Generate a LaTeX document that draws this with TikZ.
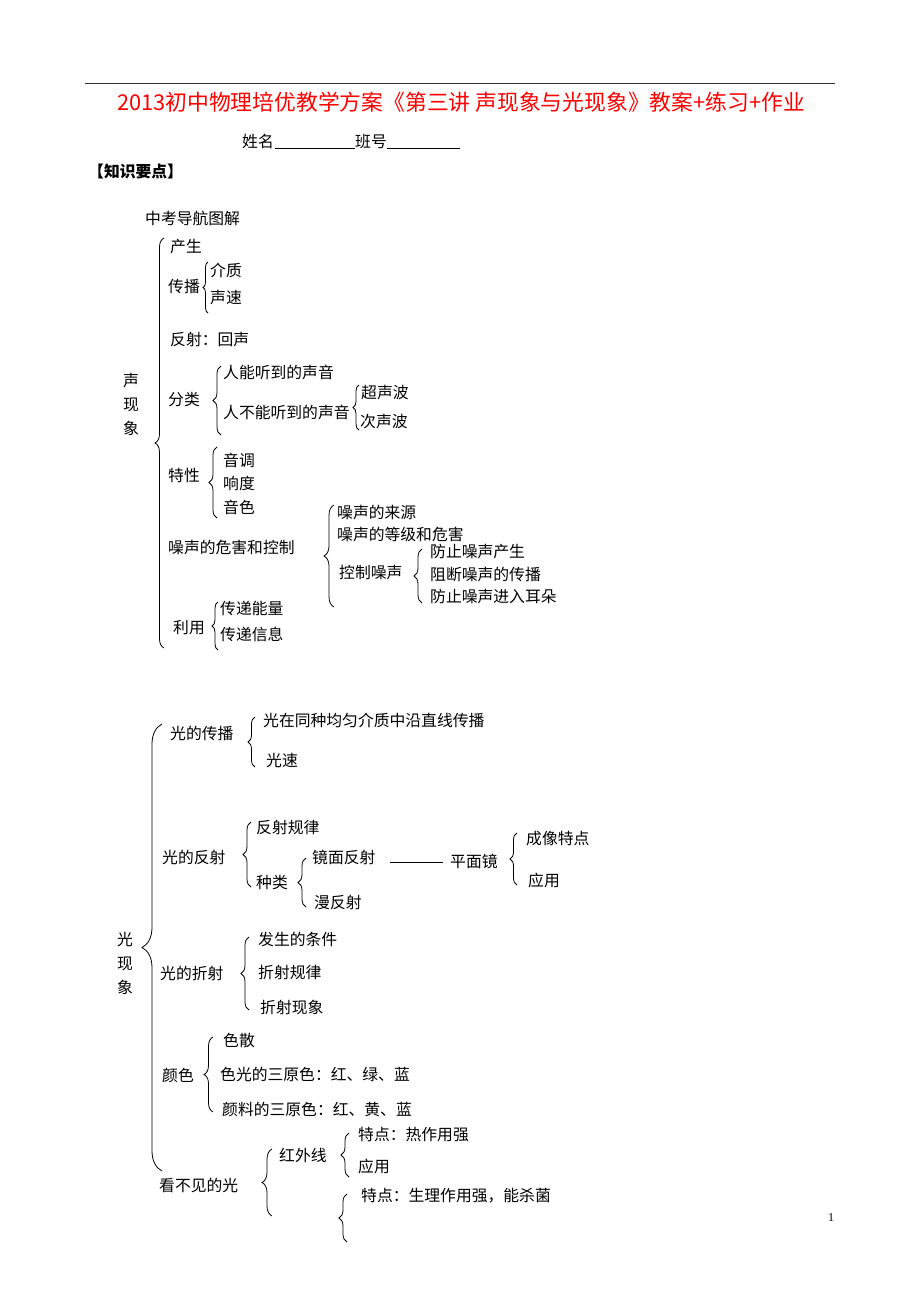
\documentclass[tikz,border=0pt]{standalone}
\usepackage{fontspec}
\usetikzlibrary{decorations.pathreplacing}
\newfontfamily\cjk{Noto Sans CJK SC}
\newfontfamily\serifen{Liberation Serif}
\definecolor{titlered}{RGB}{255,0,0}
\begin{document}
\begin{tikzpicture}[x=1pt,y=-1pt,
  t/.style={anchor=west,inner sep=0pt,font=\cjk\fontsize{15.8}{18}\selectfont},
  vt/.style={anchor=north west,inner sep=0pt,align=center,font=\cjk\fontsize{15.8}{24}\selectfont},
  br/.style={decorate,decoration={brace,amplitude=#1},line width=0.8pt},
  br/.default=7pt]
\useasboundingbox[fill=white] (0,0) rectangle (920,1302);

% header
\draw[line width=1pt,black!80] (85,83) -- (835,83);
\node[anchor=center,inner sep=0pt,text=titlered,font=\cjk\fontsize{21.8}{24}\selectfont] (title) at (461,102)
  {2013初中物理培优教学方案《第三讲\ 声现象与光现象》教案+练习+作业};
\node[t] (xm) at (242,141) {姓名};
\coordinate (u1a) at (275,148); \coordinate (u1b) at (355,148);
\draw[line width=0.8pt] (u1a) -- (u1b);
\node[t] (bh) at (355,141) {班号};
\coordinate (u2a) at (387,148); \coordinate (u2b) at (460,148);
\draw[line width=0.8pt] (u2a) -- (u2b);
\node[t,font=\cjk\fontsize{15.8}{18}\selectfont\bfseries] (zs) at (88,172) {【知识要点】};
\node[t] (dh) at (145,218) {中考导航图解};

% ---------- 声现象 ----------
\node[vt] (sxx) at (123,373) {声\\现\\象};
\draw[br=9pt] (164,648) -- (164,238);
\node[t] (cs) at (170,247) {产生};
\node[t] (cb) at (168,287) {传播};
\draw[br=5pt] (208,313) -- (208,262);
\node[t] (jz) at (210,270) {介质};
\node[t] (ss) at (210,298) {声速};
\node[t] (fs) at (170,340) {反射：回声};
\node[t] (fl) at (168,400) {分类};
\draw[br=8pt] (221,435) -- (221,366);
\node[t] (rn) at (223,372) {人能听到的声音};
\node[t] (rbn) at (223,412) {人不能听到的声音};
\draw[br=6pt] (359,430) -- (359,385);
\node[t] (csb) at (361,393) {超声波};
\node[t] (cisb) at (360,422) {次声波};
\node[t] (tx) at (168,475) {特性};
\draw[br=8pt] (217,518) -- (217,447);
\node[t] (yd) at (223,460) {音调};
\node[t] (xd) at (223,483) {响度};
\node[t] (ys) at (223,507) {音色};
\node[t] (zw) at (168,547) {噪声的危害和控制};
\draw[br=10pt] (334,607) -- (334,505);
\node[t] (ly) at (337,512) {噪声的来源};
\node[t] (dj) at (337,534) {噪声的等级和危害};
\node[t] (kz) at (339,573) {控制噪声};
\draw[br=8pt] (422,603) -- (422,549);
\node[t] (fz1) at (430,552) {防止噪声产生};
\node[t] (zd) at (430,574) {阻断噪声的传播};
\node[t] (fz2) at (430,597) {防止噪声进入耳朵};
\node[t] (lyy) at (173,628) {利用};
\draw[br=6pt] (218,650) -- (218,602);
\node[t] (nl) at (220,608) {传递能量};
\node[t] (xx) at (220,634) {传递信息};

% ---------- 光现象 ----------
\node[vt] (gxx) at (117,932) {光\\现\\象};
\draw[br=20pt] (162,1171) -- (162,724);
\node[t] (gcb) at (170,733) {光的传播};
\draw[br=7pt] (255,767) -- (255,717);
\node[t] (zx) at (263,720) {光在同种均匀介质中沿直线传播};
\node[t] (gs) at (266,760) {光速};
\node[t] (gfs) at (162,857) {光的反射};
\draw[br=8pt] (251,887) -- (251,822);
\node[t] (fsgl) at (256,827) {反射规律};
\node[t] (zl) at (256,882) {种类};
\draw[br=8pt] (306,907) -- (306,858);
\node[t] (jm) at (312,857) {镜面反射};
\node[t] (mf) at (314,902) {漫反射};
\node[t] (pm) at (450,861) {平面镜};
\coordinate (lnA) at (390,862);
\coordinate (lnB) at (443,862);
\draw[line width=1pt] (lnA) -- (lnB);
\draw[br=7pt] (517,885) -- (517,833);
\node[t] (cx) at (526,839) {成像特点};
\node[t] (yy1) at (528,880) {应用};
\node[t] (gzs) at (160,973) {光的折射};
\draw[br=8pt] (249,1010) -- (249,937);
\node[t] (tj) at (258,939) {发生的条件};
\node[t] (zsgl) at (258,972) {折射规律};
\node[t] (zsxx) at (260,1007) {折射现象};
\node[t] (ys2) at (162,1075) {颜色};
\draw[br=9pt] (213,1112) -- (213,1037);
\node[t] (sa) at (223,1040) {色散};
\node[t] (sg) at (220,1074) {色光的三原色：红、绿、蓝};
\node[t] (yl) at (222,1109) {颜料的三原色：红、黄、蓝};
\node[t] (kbj) at (159,1185) {看不见的光};
\draw[br=10pt] (272,1216) -- (272,1149);
\node[t] (hwx) at (279,1155) {红外线};
\draw[br=8pt] (349,1177) -- (349,1133);
\node[t] (td1) at (358,1135) {特点：热作用强};
\node[t] (yy2) at (358,1166) {应用};
\draw[br=8pt] (347,1242) -- (347,1194);
\node[t] (td2) at (361,1196) {特点：生理作用强，能杀菌};

\node[anchor=center,inner sep=0pt,font=\serifen\fontsize{12}{14}\selectfont] (pg) at (831,1218) {1};
\end{tikzpicture}
\end{document}
